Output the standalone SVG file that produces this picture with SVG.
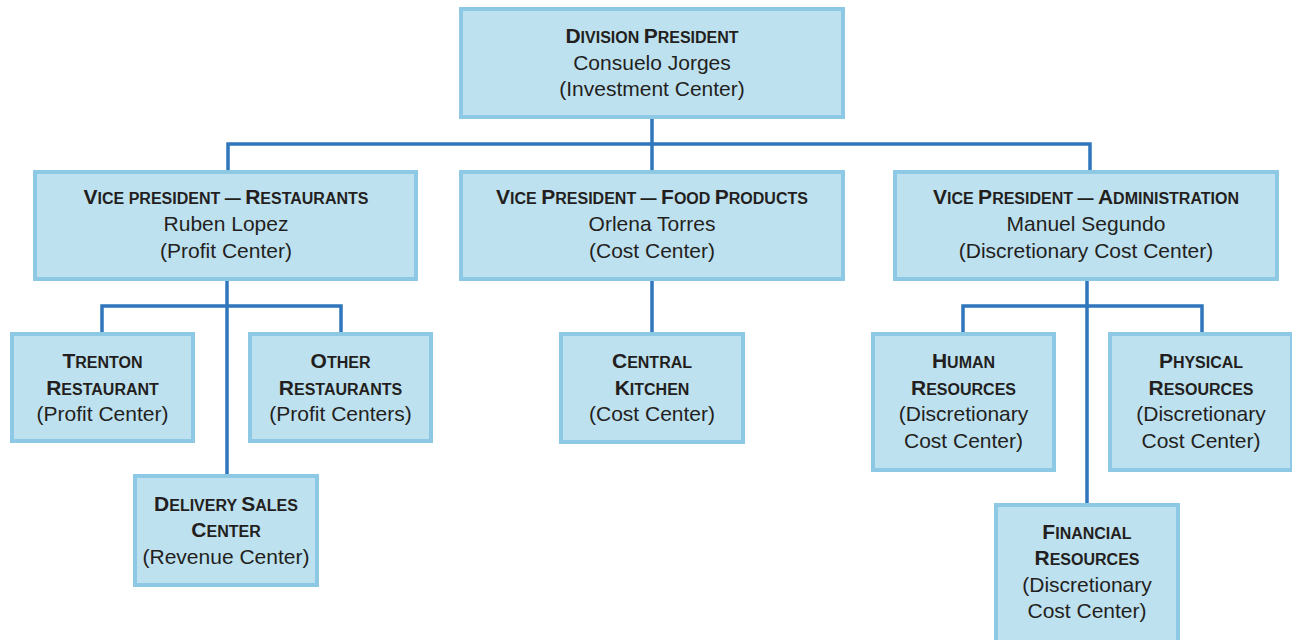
<svg xmlns="http://www.w3.org/2000/svg" width="1292" height="640" viewBox="0 0 1292 640">
<style>
.box{fill:#bee1f0;stroke:#8dc9e4;stroke-width:4}
.conn{fill:none;stroke:#2f76bc;stroke-width:3.5}
text{font-family:"Liberation Sans",Arial,sans-serif;fill:#231f20;text-anchor:middle}
.n{font-size:21px}
.s{font-size:16px;font-weight:bold}
.c{font-size:21px}
</style>
<rect width="1292" height="640" fill="#ffffff"/>
<g id="connectors">
<path class="conn" d="M652 119V170M228 170V144H1090V170"/>
<path class="conn" d="M227 281V474M102 332V306H341V332"/>
<path class="conn" d="M652 281V332"/>
<path class="conn" d="M1087 281V503M963 332V306H1202V332"/>
</g>
<g id="division-president">
<rect class="box" x="461" y="9" width="382" height="108"/>
<text x="652" y="43" class="s"><tspan class="c">D</tspan>IVISION <tspan class="c">P</tspan>RESIDENT</text>
<text x="652" y="70" class="n">Consuelo Jorges</text>
<text x="652" y="96" class="n">(Investment Center)</text>
</g>
<g id="vp-restaurants">
<rect class="box" x="35" y="172" width="381" height="107"/>
<text x="226" y="204" class="s"><tspan class="c">V</tspan>ICE PRESIDENT — <tspan class="c">R</tspan>ESTAURANTS</text>
<text x="226" y="231" class="n">Ruben Lopez</text>
<text x="226" y="258" class="n">(Profit Center)</text>
</g>
<g id="vp-food-products">
<rect class="box" x="461" y="172" width="382" height="107"/>
<text x="652" y="204" class="s"><tspan class="c">V</tspan>ICE <tspan class="c">P</tspan>RESIDENT — <tspan class="c">F</tspan>OOD <tspan class="c">P</tspan>RODUCTS</text>
<text x="652" y="231" class="n">Orlena Torres</text>
<text x="652" y="258" class="n">(Cost Center)</text>
</g>
<g id="vp-administration">
<rect class="box" x="895" y="172" width="382" height="107"/>
<text x="1086" y="204" class="s"><tspan class="c">V</tspan>ICE <tspan class="c">P</tspan>RESIDENT — <tspan class="c">A</tspan>DMINISTRATION</text>
<text x="1086" y="231" class="n">Manuel Segundo</text>
<text x="1086" y="258" class="n">(Discretionary Cost Center)</text>
</g>
<g id="trenton-restaurant">
<rect class="box" x="12" y="334" width="181" height="107"/>
<text x="102.5" y="368" class="s"><tspan class="c">T</tspan>RENTON</text>
<text x="102.5" y="395" class="s"><tspan class="c">R</tspan>ESTAURANT</text>
<text x="102.5" y="421" class="n">(Profit Center)</text>
</g>
<g id="other-restaurants">
<rect class="box" x="250" y="334" width="181" height="107"/>
<text x="340.5" y="368" class="s"><tspan class="c">O</tspan>THER</text>
<text x="340.5" y="395" class="s"><tspan class="c">R</tspan>ESTAURANTS</text>
<text x="340.5" y="421" class="n">(Profit Centers)</text>
</g>
<g id="delivery-sales-center">
<rect class="box" x="135" y="476" width="182" height="109"/>
<text x="226" y="511" class="s"><tspan class="c">D</tspan>ELIVERY <tspan class="c">S</tspan>ALES</text>
<text x="226" y="537" class="s"><tspan class="c">C</tspan>ENTER</text>
<text x="226" y="564" class="n">(Revenue Center)</text>
</g>
<g id="central-kitchen">
<rect class="box" x="561" y="334" width="182" height="108"/>
<text x="652" y="368" class="s"><tspan class="c">C</tspan>ENTRAL</text>
<text x="652" y="395" class="s"><tspan class="c">K</tspan>ITCHEN</text>
<text x="652" y="421" class="n">(Cost Center)</text>
</g>
<g id="human-resources">
<rect class="box" x="873" y="334" width="181" height="136"/>
<text x="963.5" y="368" class="s"><tspan class="c">H</tspan>UMAN</text>
<text x="963.5" y="394.5" class="s"><tspan class="c">R</tspan>ESOURCES</text>
<text x="963.5" y="421" class="n">(Discretionary</text>
<text x="963.5" y="447.5" class="n">Cost Center)</text>
</g>
<g id="physical-resources">
<rect class="box" x="1110" y="334" width="182" height="136"/>
<text x="1201" y="368" class="s"><tspan class="c">P</tspan>HYSICAL</text>
<text x="1201" y="394.5" class="s"><tspan class="c">R</tspan>ESOURCES</text>
<text x="1201" y="421" class="n">(Discretionary</text>
<text x="1201" y="447.5" class="n">Cost Center)</text>
</g>
<g id="financial-resources">
<rect class="box" x="996" y="505" width="182" height="140"/>
<text x="1087" y="539" class="s"><tspan class="c">F</tspan>INANCIAL</text>
<text x="1087" y="565" class="s"><tspan class="c">R</tspan>ESOURCES</text>
<text x="1087" y="592" class="n">(Discretionary</text>
<text x="1087" y="618" class="n">Cost Center)</text>
</g>
</svg>
